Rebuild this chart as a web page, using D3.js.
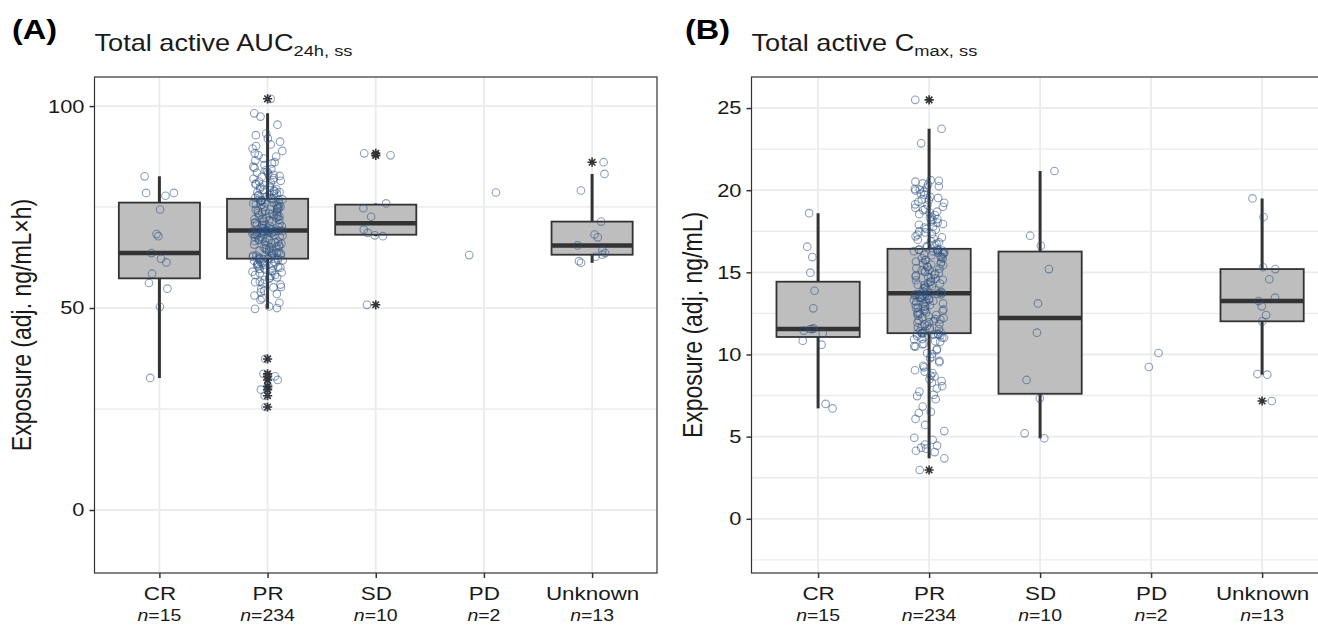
<!DOCTYPE html>
<html>
<head>
<meta charset="utf-8">
<script src="https://cdn.jsdelivr.net/npm/d3@7"></script>
<style>
  body { margin: 0; background: #fff; }
  svg { display: block; }
</style>
</head>
<body>
<svg id="chart" width="1318" height="627"></svg>
<script>
// ---- Response categories and group sizes ----
const categories = ["CR", "PR", "SD", "PD", "Unknown"];
const groupSizes = [15, 234, 10, 2, 13];

// ---- Panel A: total active AUC24h,ss (adj. ng/mL×h) ----
const aucCR = [82.6, 78.5, 78.5, 77.8, 74.4, 68.3, 67.8, 63.6, 62.2, 61.3, 58.5, 56.2, 54.8, 50.3, 32.7];
const aucPR = [
  // low tail
  37.4, 33.7, 33.1, 32.2, 30.6, 29.8, 28.3, 25.5,
  49.8, 50.0, 50.4, 51.3, 52.0, 52.4, 53.1, 53.5, 53.9, 54.3,
  54.8, 55.1, 55.2, 55.8, 56.1, 56.4, 56.5, 57.0, 57.3, 57.5,
  57.6, 58.0, 58.2, 58.2, 58.6, 58.8, 59.0, 59.2, 59.3, 59.5,
  59.7, 59.8, 60.0, 60.1, 60.3, 60.4, 60.6, 60.7, 60.9, 61.0,
  61.1, 61.3, 61.4, 61.5, 61.7, 61.8, 61.9, 62.0, 62.1, 62.1,
  // lower half of the box
  62.2, 62.3, 62.3, 62.5, 62.7, 62.8, 63.0, 63.0, 63.2, 63.3,
  63.5, 63.6, 63.6, 63.8, 64.0, 64.1, 64.2, 64.4, 64.6, 64.7,
  64.9, 65.0, 65.2, 65.3, 65.5, 65.6, 65.7, 65.9, 66.1, 66.2,
  66.4, 66.5, 66.6, 66.8, 66.9, 67.0, 67.2, 67.3, 67.5, 67.6,
  67.7, 67.9, 68.0, 68.1, 68.2, 68.4, 68.5, 68.6, 68.7, 68.8,
  68.9, 68.9, 69.0, 69.0, 69.0, 69.1, 69.1, 69.1, 69.1,
  // upper half of the box
  69.3, 69.4, 69.5, 69.6, 69.8, 69.9, 70.0, 70.2, 70.3, 70.5,
  70.6, 70.7, 70.9, 71.0, 71.2, 71.3, 71.4, 71.6, 71.7, 71.9,
  72.0, 72.1, 72.3, 72.4, 72.6, 72.7, 72.8, 73.0, 73.1, 73.3,
  73.4, 73.5, 73.7, 73.8, 74.0, 74.1, 74.3, 74.4, 74.5, 74.7,
  74.8, 75.0, 75.1, 75.2, 75.4, 75.5, 75.7, 75.8, 75.9, 76.1,
  76.2, 76.3, 76.5, 76.6, 76.7, 76.8, 76.9, 76.9,
  // high tail
  77.1, 77.2, 77.3, 77.5, 77.6, 77.8, 77.9, 78.1, 78.2, 78.4,
  78.6, 78.7, 78.9, 79.1, 79.3, 79.4, 79.6, 79.8, 80.0, 80.2,
  80.4, 80.6, 80.8, 81.0, 81.3, 81.5, 81.7, 82.0, 82.2, 82.5,
  82.7, 83.0, 83.3, 83.5, 83.8, 84.1, 84.4, 84.7, 85.0, 85.4,
  85.8, 86.1, 86.5, 87.0, 87.5, 87.8, 88.3, 88.9, 89.5, 90.1,
  90.5, 91.2, 92.0, 92.8, 93.2, 95.4, 97.4, 98.2,
  101.8
];
const aucSD = [88.3, 87.8, 75.9, 74.7, 72.6, 69.4, 68.6, 68.0, 67.8, 50.8];
const aucPD = [78.6, 63.1];
const aucUnknown = [86.1, 83.2, 79.1, 71.4, 68.2, 67.5, 65.5, 64.3, 63.6, 63.2, 62.7, 61.6, 61.2];
const aucTicks = [0, 50, 100];
const aucMinorTicks = [25, 75];

// ---- Panel B: total active Cmax,ss (adj. ng/mL) ----
const cmaxCR = [18.6, 16.56, 15.93, 14.98, 13.88, 12.81, 11.59, 11.55, 11.55, 11.45, 11.29, 10.84, 10.6, 6.99, 6.72];
const cmaxPR = [
  2.97,
  // low tail
  3.68, 4.06, 4.14, 4.27, 4.33, 4.45, 4.52, 4.81, 4.93, 5.34,
  5.71, 6.08, 6.44, 6.51, 6.83, 7.28, 7.47, 7.55, 7.74, 7.93,
  8.07, 8.28, 8.38, 8.49, 8.66, 8.71, 8.87, 8.95, 9.04, 9.22,
  9.31, 9.53, 9.61, 9.78, 9.85, 10.03, 10.09, 10.27, 10.33, 10.48,
  10.51, 10.62, 10.66, 10.77, 10.81, 10.92, 10.94, 11.02, 11.04, 11.12,
  11.14, 11.16, 11.21, 11.22, 11.26, 11.27, 11.28,
  // lower half of the box
  11.29, 11.32, 11.34, 11.41, 11.44, 11.52, 11.54, 11.61, 11.65, 11.72,
  11.75, 11.83, 11.86, 11.93, 11.97, 12.04, 12.07, 12.13, 12.16, 12.23,
  12.26, 12.31, 12.37, 12.40, 12.47, 12.49, 12.56, 12.58, 12.65, 12.67,
  12.74, 12.77, 12.83, 12.85, 12.91, 12.94, 13.01, 13.03, 13.09, 13.11,
  13.18, 13.20, 13.26, 13.29, 13.35, 13.37, 13.43, 13.45, 13.51, 13.52,
  13.57, 13.58, 13.61, 13.63, 13.65, 13.66, 13.68, 13.69, 13.70,
  // upper half of the box
  13.75, 13.81, 13.84, 13.91, 13.95, 14.02, 14.05, 14.12, 14.15, 14.22,
  14.25, 14.32, 14.35, 14.42, 14.45, 14.52, 14.55, 14.62, 14.65, 14.72,
  14.75, 14.82, 14.85, 14.92, 14.95, 15.02, 15.05, 15.12, 15.15, 15.22,
  15.25, 15.32, 15.35, 15.43, 15.46, 15.53, 15.56, 15.63, 15.66, 15.73,
  15.76, 15.83, 15.86, 15.93, 15.96, 16.03, 16.06, 16.13, 16.15, 16.21,
  16.23, 16.28, 16.29, 16.33, 16.34, 16.36, 16.37, 16.38,
  // high tail
  16.45, 16.53, 16.59, 16.69, 16.74, 16.83, 16.89, 16.99, 17.04, 17.13,
  17.19, 17.29, 17.34, 17.43, 17.49, 17.59, 17.64, 17.73, 17.79, 17.89,
  17.94, 18.03, 18.09, 18.19, 18.24, 18.33, 18.39, 18.49, 18.54, 18.63,
  18.69, 18.79, 18.84, 18.93, 18.99, 19.09, 19.14, 19.23, 19.29, 19.39,
  19.44, 19.53, 19.59, 19.71, 19.79, 19.91, 19.98, 20.04, 20.16, 20.24,
  20.34, 20.41, 20.52, 20.57, 20.61, 20.08, 22.85, 23.74,
  25.5
];
const cmaxSD = [21.17, 17.23, 16.62, 15.2, 13.11, 11.33, 8.45, 7.33, 5.2, 4.9];
const cmaxPD = [10.09, 9.24];
const cmaxUnknown = [19.5, 18.37, 15.31, 15.2, 14.58, 13.46, 13.25, 12.93, 12.4, 12.02, 8.81, 8.77, 7.17];
const cmaxTicks = [0, 5, 10, 15, 20, 25];
const cmaxMinorTicks = [-2.5, 2.5, 7.5, 12.5, 17.5, 22.5];

// ---- Shared styling ----
const FONT = "'Liberation Sans', Arial, Helvetica, sans-serif";
const WIDE = 1.18;          // horizontal stretch applied to all lettering
const TEXT = "#1a1a1a";
const GRID = "#ebebeb";
const DARK = "#333333";
const BOX_FILL = "#bebebe";
const POINT = "#2e5283";

const svg = d3.select("#chart");

// small deterministic generator for horizontal jitter
function makeJitter(seed) {
  let a = seed >>> 0;
  return function () {
    a = (a + 0x6D2B79F5) >>> 0;
    let t = a;
    t = Math.imul(t ^ (t >>> 15), t | 1);
    t ^= t + Math.imul(t ^ (t >>> 7), t | 61);
    return ((t ^ (t >>> 14)) >>> 0) / 4294967296;
  };
}

// ggplot-style eight-armed asterisk
function asterisk(r) {
  const d = r * Math.SQRT1_2;
  return `M${-r},0L${r},0M0,${-r}L0,${r}M${-d},${-d}L${d},${d}M${-d},${d}L${d},${-d}`;
}

// text placed at (x, y) and widened horizontally
function label(parent, x, y, size) {
  return parent.append("text")
    .attr("transform", `translate(${x},${y}) scale(${WIDE},1)`)
    .attr("font-family", FONT).attr("font-size", size).attr("fill", TEXT);
}

function boxStats(values) {
  const s = values.slice().sort(d3.ascending);
  const q1 = d3.quantile(s, 0.25), med = d3.quantile(s, 0.5), q3 = d3.quantile(s, 0.75);
  const iqr = q3 - q1;
  const loF = q1 - 1.5 * iqr, hiF = q3 + 1.5 * iqr;
  const inside = s.filter(v => v >= loF && v <= hiF);
  return {
    q1, med, q3,
    lo: d3.min(inside), hi: d3.max(inside),
    outliers: s.filter(v => v < loF || v > hiF)
  };
}

function drawPanel(cfg) {
  const g = svg.append("g");
  const x = d3.scalePoint().domain(categories).range([cfg.x0, cfg.x1]).padding(0.6);
  const y = d3.scaleLinear().domain(cfg.yDomain).range([cfg.y1, cfg.y0]);
  const step = x.step();

  const clipId = "clip-" + cfg.tag.replace(/\W/g, "");
  g.append("clipPath").attr("id", clipId)
    .append("rect").attr("x", cfg.x0).attr("y", cfg.y0)
    .attr("width", cfg.x1 - cfg.x0).attr("height", cfg.y1 - cfg.y0);

  const plot = g.append("g").attr("clip-path", `url(#${clipId})`);

  // grid
  plot.selectAll(".minor").data(cfg.minorTicks).join("line")
    .attr("x1", cfg.x0).attr("x2", cfg.x1)
    .attr("y1", d => y(d)).attr("y2", d => y(d))
    .attr("stroke", GRID).attr("stroke-width", 1.4);
  plot.selectAll(".major").data(cfg.majorTicks).join("line")
    .attr("x1", cfg.x0).attr("x2", cfg.x1)
    .attr("y1", d => y(d)).attr("y2", d => y(d))
    .attr("stroke", GRID).attr("stroke-width", 1.8);
  plot.selectAll(".vgrid").data(categories).join("line")
    .attr("x1", d => x(d)).attr("x2", d => x(d))
    .attr("y1", cfg.y0).attr("y2", cfg.y1)
    .attr("stroke", GRID).attr("stroke-width", 1.8);

  // boxplots (groups with at least three observations)
  cfg.groups.forEach((vals, i) => {
    if (vals.length < 3) return;
    const st = boxStats(vals);
    const cx = x(categories[i]);
    const bw = step * 0.75;
    const bg = plot.append("g");
    bg.append("line").attr("x1", cx).attr("x2", cx)
      .attr("y1", y(st.hi)).attr("y2", y(st.q3))
      .attr("stroke", DARK).attr("stroke-width", 3);
    bg.append("line").attr("x1", cx).attr("x2", cx)
      .attr("y1", y(st.q1)).attr("y2", y(st.lo))
      .attr("stroke", DARK).attr("stroke-width", 3);
    bg.append("rect")
      .attr("x", cx - bw / 2).attr("width", bw)
      .attr("y", y(st.q3)).attr("height", y(st.q1) - y(st.q3))
      .attr("fill", BOX_FILL).attr("stroke", DARK).attr("stroke-width", 1.8);
    bg.append("line")
      .attr("x1", cx - bw / 2).attr("x2", cx + bw / 2)
      .attr("y1", y(st.med)).attr("y2", y(st.med))
      .attr("stroke", DARK).attr("stroke-width", 4.5);
    bg.selectAll("path").data(st.outliers).join("path")
      .attr("transform", d => `translate(${cx},${y(d)})`)
      .attr("d", asterisk(4.6))
      .attr("stroke", DARK).attr("stroke-width", 1.6).attr("fill", "none");
  });

  // jittered observations
  cfg.groups.forEach((vals, i) => {
    const cx = x(categories[i]);
    const rnd = makeJitter(cfg.seed + i * 101);
    plot.append("g").selectAll("circle").data(vals).join("circle")
      .attr("cx", () => cx + (rnd() * 2 - 1) * step * 0.14)
      .attr("cy", d => y(d))
      .attr("r", 3.8)
      .attr("fill", "none")
      .attr("stroke", POINT)
      .attr("stroke-opacity", 0.55)
      .attr("stroke-width", 1.1);
  });

  // panel border
  g.append("rect")
    .attr("x", cfg.x0).attr("y", cfg.y0)
    .attr("width", cfg.x1 - cfg.x0).attr("height", cfg.y1 - cfg.y0)
    .attr("fill", "none").attr("stroke", DARK).attr("stroke-width", 1.2);

  // y axis
  const ya = g.append("g").attr("transform", `translate(${cfg.x0},0)`)
    .call(d3.axisLeft(y).tickValues(cfg.majorTicks).tickSize(5).tickPadding(3.5).tickFormat(d3.format("d")));
  ya.select(".domain").remove();
  ya.selectAll(".tick line").attr("stroke", DARK).attr("stroke-width", 1.5);
  ya.selectAll(".tick text")
    .attr("transform", `scale(${WIDE},1)`)
    .attr("font-family", FONT).attr("font-size", 18.5).attr("fill", TEXT);

  // x axis
  const xa = g.append("g").attr("transform", `translate(0,${cfg.y1})`)
    .call(d3.axisBottom(x).tickSize(5).tickPadding(9));
  xa.select(".domain").remove();
  xa.selectAll(".tick line").attr("stroke", DARK).attr("stroke-width", 1.5);
  xa.selectAll(".tick text")
    .attr("transform", `scale(${WIDE},1)`)
    .attr("font-family", FONT).attr("font-size", 19).attr("fill", TEXT);

  // group sizes under the category names
  categories.forEach((c, i) => {
    const t = label(g, x(c), cfg.y1 + 48, 16.5).attr("text-anchor", "middle");
    t.append("tspan").attr("font-style", "italic").text("n");
    t.append("tspan").text("=" + groupSizes[i]);
  });

  // y title
  g.append("text")
    .attr("transform", `translate(${cfg.yTitleX},${(cfg.y0 + cfg.y1) / 2}) rotate(-90) scale(1,${WIDE})`)
    .attr("text-anchor", "middle")
    .attr("font-family", FONT).attr("font-size", 23).attr("fill", TEXT)
    .text(cfg.yTitle);

  // tag
  label(g, cfg.tagX, 39, 27.5).attr("font-weight", "bold").attr("fill", "#000").text(cfg.tag);

  // title with subscript
  const t = label(g, cfg.x0, 51, 23);
  t.append("tspan").text(cfg.title);
  t.append("tspan").attr("font-size", 15.5).attr("dy", 5).text(cfg.titleSub);
}

drawPanel({
  tag: "(A)", tagX: 12,
  title: "Total active AUC", titleSub: "24h, ss",
  yTitle: "Exposure (adj. ng/mL×h)", yTitleX: 31,
  x0: 94.5, x1: 657, y0: 77, y1: 573,
  yDomain: [-15.6, 107.2],
  majorTicks: aucTicks, minorTicks: aucMinorTicks,
  groups: [aucCR, aucPR, aucSD, aucPD, aucUnknown],
  seed: 7
});

drawPanel({
  tag: "(B)", tagX: 685,
  title: "Total active C", titleSub: "max, ss",
  yTitle: "Exposure (adj. ng/mL)", yTitleX: 702,
  x0: 751.5, x1: 1328.7, y0: 77, y1: 573,
  yDomain: [-3.3, 26.89],
  majorTicks: cmaxTicks, minorTicks: cmaxMinorTicks,
  groups: [cmaxCR, cmaxPR, cmaxSD, cmaxPD, cmaxUnknown],
  seed: 29
});
</script>
</body>
</html>
